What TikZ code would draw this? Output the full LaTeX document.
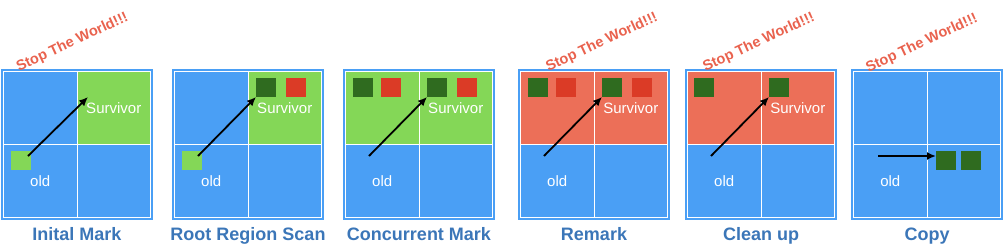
\documentclass[tikz,border=0pt]{standalone}
\usepackage{fontspec}
\setmainfont{Liberation Sans}
\usepackage{tikz}
\usetikzlibrary{arrows.meta,positioning}
\usepackage{xcolor}
\definecolor{GcBlue}{HTML}{4A9FF5}
\definecolor{GcGreen}{HTML}{84D757}
\definecolor{GcDark}{HTML}{2F6B1F}
\definecolor{GcRed}{HTML}{DB3B26}
\definecolor{GcSalmon}{HTML}{EC6F58}
\definecolor{GcStop}{HTML}{E9624E}
\definecolor{GcLabel}{HTML}{3B76B8}
\tikzset{
  frame/.style={draw=GcBlue,fill=GcBlue,line width=2pt,minimum width=150pt,minimum height=149pt,inner sep=0pt,outer sep=0pt,anchor=north west},
  cell/.style={draw=white,line width=1pt,minimum width=73.5pt,minimum height=73pt,inner sep=0pt,outer sep=0pt,anchor=north west,text=white,font=\fontsize{15}{15}\selectfont},
  obj/.style={minimum width=19.5pt,minimum height=19pt,inner sep=0pt,outer sep=0pt,anchor=north west},
  marked/.style={obj,fill=GcGreen},
  live/.style={obj,fill=GcDark},
  dead/.style={obj,fill=GcRed},
  arrow/.style={-{Latex[length=9pt,width=8pt]},line width=1.8pt,draw=black},
  stw/.style={text=GcStop,rotate=25,font=\bfseries\fontsize{14.5}{14.5}\selectfont},
  caption/.style={text=GcLabel,anchor=base,font=\bfseries\fontsize{18}{18}\selectfont}
}
\begin{document}
\begin{tikzpicture}[x=1pt,y=-1pt]
\useasboundingbox (0,0) rectangle (1004,250);
% Inital Mark
\begin{scope}[xshift=1pt]
\node[frame] (f1) at (1,70) {};
\node[cell,fill=GcBlue] (ul1) at (2.5,71.5) {};
\node[cell,fill=GcGreen,right=0pt of ul1] (ur1) {Survivor};
\node[cell,fill=GcBlue,below=0pt of ul1] (ll1) {old};
\node[cell,fill=GcBlue,right=0pt of ll1] (lr1) {};
\node[marked] (m1) at (10,151) {};
\coordinate (s1) at (27,156);
\coordinate (t1) at (87,97);
\draw[arrow] (s1) -- (t1);
\node[stw] (w1) at (71.5,42.5) {Stop The World!!!};
\node[caption] (c1) at (76,240.7) {Inital Mark};
\end{scope}
% Root Region Scan
\begin{scope}[xshift=172pt]
\node[frame] (f2) at (1,70) {};
\node[cell,fill=GcBlue] (ul2) at (2.5,71.5) {};
\node[cell,fill=GcGreen,right=0pt of ul2] (ur2) {Survivor};
\node[cell,fill=GcBlue,below=0pt of ul2] (ll2) {old};
\node[cell,fill=GcBlue,right=0pt of ll2] (lr2) {};
\node[marked] (m2) at (10,151) {};
\node[live] (a2) at (84,78) {};
\node[dead] (d2) at (114,78) {};
\coordinate (s2) at (26,156);
\draw[arrow] (s2) -- (a2.south west);
\node[caption] (c2) at (76,240.7) {Root Region Scan};
\end{scope}
% Concurrent Mark
\begin{scope}[xshift=343pt]
\node[frame] (f3) at (1,70) {};
\node[cell,fill=GcGreen] (ul3) at (2.5,71.5) {};
\node[cell,fill=GcGreen,right=0pt of ul3] (ur3) {Survivor};
\node[cell,fill=GcBlue,below=0pt of ul3] (ll3) {old};
\node[cell,fill=GcBlue,right=0pt of ll3] (lr3) {};
\node[live] (b3) at (10,78) {};
\node[dead] (e3) at (38,78) {};
\node[live] (a3) at (84,78) {};
\node[dead] (d3) at (114,78) {};
\coordinate (s3) at (26,156);
\draw[arrow] (s3) -- (a3.south west);
\node[caption] (c3) at (76,240.7) {Concurrent Mark};
\end{scope}
% Remark
\begin{scope}[xshift=518pt]
\node[frame] (f4) at (1,70) {};
\node[cell,fill=GcSalmon] (ul4) at (2.5,71.5) {};
\node[cell,fill=GcSalmon,right=0pt of ul4] (ur4) {Survivor};
\node[cell,fill=GcBlue,below=0pt of ul4] (ll4) {old};
\node[cell,fill=GcBlue,right=0pt of ll4] (lr4) {};
\node[live] (b4) at (10,78) {};
\node[dead] (e4) at (38,78) {};
\node[live] (a4) at (84,78) {};
\node[dead] (d4) at (114,78) {};
\coordinate (s4) at (26,156);
\draw[arrow] (s4) -- (a4.south west);
\node[stw] (w4) at (84,42.5) {Stop The World!!!};
\node[caption] (c4) at (76,240.7) {Remark};
\end{scope}
% Clean up
\begin{scope}[xshift=685pt]
\node[frame] (f5) at (1,70) {};
\node[cell,fill=GcSalmon] (ul5) at (2.5,71.5) {};
\node[cell,fill=GcSalmon,right=0pt of ul5] (ur5) {Survivor};
\node[cell,fill=GcBlue,below=0pt of ul5] (ll5) {old};
\node[cell,fill=GcBlue,right=0pt of ll5] (lr5) {};
\node[live] (b5) at (9,78) {};
\node[live] (a5) at (84,78) {};
\coordinate (s5) at (26,156);
\draw[arrow] (s5) -- (a5.south west);
\node[stw] (w5) at (74,42.5) {Stop The World!!!};
\node[caption] (c5) at (76,240.7) {Clean up};
\end{scope}
% Copy
\begin{scope}[xshift=851pt]
\node[frame] (f6) at (1,70) {};
\node[cell,fill=GcBlue] (ul6) at (2.5,71.5) {};
\node[cell,fill=GcBlue,right=0pt of ul6] (ur6) {};
\node[cell,fill=GcBlue,below=0pt of ul6] (ll6) {old};
\node[cell,fill=GcBlue,right=0pt of ll6] (lr6) {};
\node[live] (a6) at (85,151) {};
\node[live] (b6) at (110,151) {};
\coordinate (s6) at (27,156);
\draw[arrow] (s6) -- (s6 -| a6.west);
\node[stw] (w6) at (71,43.5) {Stop The World!!!};
\node[caption] (c6) at (76,240.7) {Copy};
\end{scope}
\end{tikzpicture}
\end{document}
